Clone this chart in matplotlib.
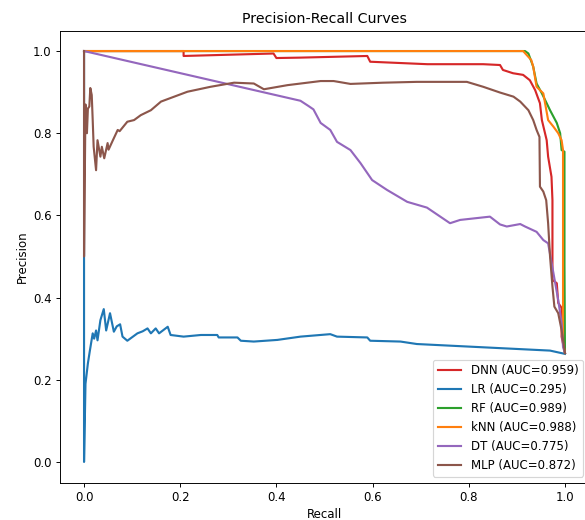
import matplotlib
matplotlib.use("Agg")
import matplotlib.pyplot as plt

# ---- data ----
labels = ["DNN (AUC=0.959)", "LR (AUC=0.295)", "RF (AUC=0.989)",
          "kNN (AUC=0.988)", "DT (AUC=0.775)", "MLP (AUC=0.872)"]
colors = ["tab:red", "tab:blue", "tab:green", "tab:orange", "tab:purple", "tab:brown"]

dnn_recall = [0, 0.207, 0.207, 0.30, 0.394, 0.40, 0.45, 0.589, 0.595, 0.714, 0.83,
              0.865, 0.871, 0.892, 0.913, 0.927, 0.938, 0.948, 0.952, 0.962, 0.965,
              0.972, 0.974, 0.974, 0.983, 0.986, 0.993, 0.993, 1.0]
dnn_precision = [1.0, 1.0, 0.988, 0.991, 0.994, 0.983, 0.984, 0.988, 0.974, 0.968, 0.968,
                 0.966, 0.954, 0.946, 0.942, 0.929, 0.905, 0.873, 0.832, 0.783, 0.743,
                 0.694, 0.637, 0.443, 0.435, 0.387, 0.375, 0.305, 0.265]

lr_recall = [0, 0, 0.003, 0.008, 0.012, 0.018, 0.021, 0.025, 0.028, 0.034, 0.041, 0.046,
             0.054, 0.062, 0.068, 0.075, 0.080, 0.090, 0.111, 0.122, 0.132, 0.139, 0.149,
             0.156, 0.174, 0.180, 0.207, 0.243, 0.277, 0.280, 0.319, 0.326, 0.353, 0.402,
             0.45, 0.512, 0.526, 0.589, 0.595, 0.658, 0.692, 0.761, 0.865, 0.969, 1.0]
lr_precision = [1.0, 0.0, 0.19, 0.24, 0.27, 0.313, 0.30, 0.32, 0.296, 0.345, 0.372, 0.32,
                0.362, 0.317, 0.33, 0.335, 0.305, 0.295, 0.313, 0.318, 0.325, 0.313, 0.325,
                0.313, 0.329, 0.309, 0.305, 0.309, 0.309, 0.303, 0.303, 0.295, 0.293, 0.297,
                0.305, 0.311, 0.305, 0.303, 0.295, 0.293, 0.287, 0.283, 0.277, 0.271, 0.263]

rf_recall = [0, 0.917, 0.924, 0.934, 0.941, 0.952, 0.962, 0.969, 0.983, 0.99, 0.993,
             0.999, 0.999, 1.0]
rf_precision = [1.0, 1.0, 0.994, 0.962, 0.921, 0.897, 0.873, 0.856, 0.825, 0.8, 0.759,
                0.755, 0.48, 0.265]

knn_recall = [0, 0.913, 0.93, 0.934, 0.941, 0.955, 0.965, 0.976, 0.986, 0.993, 0.996,
              0.996, 1.0]
knn_precision = [1.0, 1.0, 0.978, 0.962, 0.913, 0.897, 0.832, 0.816, 0.8, 0.783, 0.759,
                 0.29, 0.265]

dt_recall = [0, 0.45, 0.467, 0.477, 0.492, 0.512, 0.526, 0.554, 0.575, 0.599, 0.63, 0.672,
             0.713, 0.761, 0.782, 0.844, 0.865, 0.879, 0.907, 0.917, 0.941, 0.955, 0.965,
             0.976, 0.986, 0.993, 0.996, 1.0]
dt_precision = [1.0, 0.879, 0.866, 0.858, 0.825, 0.808, 0.779, 0.759, 0.727, 0.686, 0.662,
                0.633, 0.619, 0.581, 0.589, 0.597, 0.578, 0.573, 0.579, 0.573, 0.560, 0.540,
                0.532, 0.46, 0.394, 0.338, 0.28, 0.265]

mlp_recall = [0, 0, 0.003, 0.006, 0.008, 0.011, 0.013, 0.016, 0.018, 0.02, 0.025, 0.028,
              0.034, 0.037, 0.042, 0.049, 0.051, 0.06, 0.07, 0.074, 0.09, 0.104, 0.118,
              0.139, 0.16, 0.215, 0.263, 0.312, 0.353, 0.374, 0.423, 0.492, 0.519, 0.554,
              0.622, 0.692, 0.796, 0.83, 0.865, 0.893, 0.907, 0.924, 0.934, 0.941, 0.947,
              0.948, 0.955, 0.961, 0.965, 0.969, 0.974, 0.978, 0.986, 0.993, 1.0]
mlp_precision = [1.0, 0.5, 0.87, 0.80, 0.86, 0.865, 0.91, 0.893, 0.832, 0.767, 0.71, 0.783,
                 0.743, 0.767, 0.739, 0.776, 0.76, 0.783, 0.808, 0.805, 0.828, 0.832, 0.844,
                 0.856, 0.877, 0.901, 0.913, 0.923, 0.921, 0.907, 0.917, 0.927, 0.927, 0.92,
                 0.923, 0.925, 0.925, 0.913, 0.899, 0.889, 0.877, 0.856, 0.832, 0.808, 0.791,
                 0.67, 0.658, 0.637, 0.581, 0.5, 0.427, 0.378, 0.362, 0.321, 0.265]

series = [(dnn_recall, dnn_precision), (lr_recall, lr_precision), (rf_recall, rf_precision),
          (knn_recall, knn_precision), (dt_recall, dt_precision), (mlp_recall, mlp_precision)]

DPI = 85
fig = plt.figure(figsize=(585 / DPI, 520 / DPI), dpi=DPI)
ax = fig.add_axes([60 / 585, 37.5 / 520, 529 / 585, 452 / 520])

for (r, p), lab, c in zip(series, labels, colors):
    ax.plot(r, p, color=c, lw=1.8, label=lab)

ax.set_xlim(-0.05, 1.05)
ax.set_ylim(-0.05, 1.05)
ax.set_xticks([0.0, 0.2, 0.4, 0.6, 0.8, 1.0])
ax.set_yticks([0.0, 0.2, 0.4, 0.6, 0.8, 1.0])
ax.set_title("Precision-Recall Curves")
ax.set_xlabel("Recall")
ax.set_ylabel("Precision")
ax.legend(loc="lower right")

fig.savefig("out.png", dpi=DPI)
